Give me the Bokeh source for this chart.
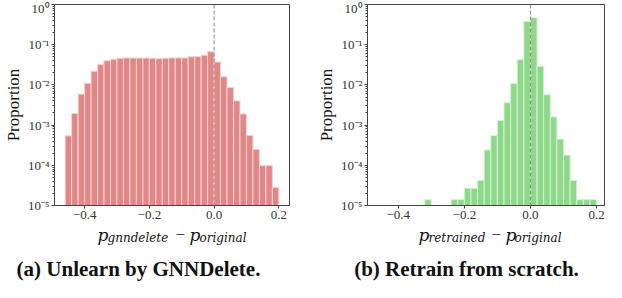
import math
from bokeh.plotting import figure
from bokeh.models import (Range1d, FixedTicker, CustomJSTickFormatter, Span,
                          ColumnDataSource)
from bokeh.core.properties import value
from bokeh.layouts import row, column
from bokeh.embed import file_html
from bokeh.resources import INLINE

# ---------------- data ----------------
BIN_W = 0.02
left_bins = [-0.46, -0.44, -0.42, -0.40, -0.38, -0.36, -0.34, -0.32, -0.30, -0.28,
             -0.26, -0.24, -0.22, -0.20, -0.18, -0.16, -0.14, -0.12, -0.10, -0.08,
             -0.06, -0.04, -0.02, 0.00, 0.02, 0.04, 0.06, 0.08, 0.10, 0.12,
             0.14, 0.16, 0.18]
left_vals = [5.4e-4, 1.95e-3, 5.9e-3, 1.1e-2, 2.2e-2, 3.2e-2, 4.0e-2, 4.35e-2, 4.6e-2, 4.7e-2,
             4.65e-2, 4.65e-2, 4.65e-2, 4.6e-2, 4.5e-2, 4.6e-2, 4.7e-2, 4.7e-2, 4.7e-2, 5.0e-2,
             5.05e-2, 5.5e-2, 6.7e-2, 3.7e-2, 1.6e-2, 8.6e-3, 4.0e-3, 1.9e-3, 5.5e-4, 2.5e-4,
             9.8e-5, 9.8e-5, 2.8e-5]

right_bins = [-0.32, -0.24, -0.22, -0.20, -0.18, -0.16, -0.14, -0.12, -0.10, -0.08,
              -0.06, -0.04, -0.02, 0.00, 0.02, 0.04, 0.06, 0.08, 0.10, 0.12,
              0.14, 0.16, 0.18]
right_vals = [1.4e-5, 1.4e-5, 1.4e-5, 2.7e-5, 2.7e-5, 4.2e-5, 2.4e-4, 5.5e-4, 1.3e-3, 3.6e-3,
              1.07e-2, 4.2e-2, 0.38, 0.47, 2.9e-2, 5.7e-3, 1.6e-3, 4.5e-4, 1.8e-4, 4.2e-5,
              1.4e-5, 1.4e-5, 1.4e-5]

x_ticks = [-0.4, -0.2, 0.0, 0.2]
y_ticks = [1e-5, 1e-4, 1e-3, 1e-2, 1e-1, 1e0]
y_minor = [k * 10.0 ** e for e in range(-5, 0) for k in range(2, 10)]

captions = ["(a) Unlearn by GNNDelete.", "(b) Retrain from scratch."]
subs = ["gnndelete", "retrained"]
y_label = "Proportion"

TICK_FONT = "Liberation Serif"
MATH_FONT = "DejaVu Serif"
INK = "#111111"

yfmt = CustomJSTickFormatter(code="""
const e = Math.round(Math.log10(tick));
const sup = {"-": "\u207b", "0": "\u2070", "1": "\u00b9", "2": "\u00b2", "3": "\u00b3",
             "4": "\u2074", "5": "\u2075", "6": "\u2076", "7": "\u2077", "8": "\u2078", "9": "\u2079"};
return "10" + String(e).split("").map(c => sup[c]).join("");
""")
xfmt = CustomJSTickFormatter(code="""
const v = Math.abs(tick) < 1e-9 ? 0 : tick;
return (v < 0 ? "\u2212" : "") + Math.abs(v).toFixed(1);
""")

MAIN_H = 221
TEXT_H = 282 - MAIN_H
TOTAL_W = 606


def make_main(bins, vals, fill, edge, width, bl, br, xr):
    bt, bb = 4, 16
    p = figure(width=width, height=MAIN_H, output_backend="svg", toolbar_location=None,
               title=None,
               x_range=Range1d(*xr), y_range=Range1d(1e-5, 1.0), y_axis_type="log",
               min_border_left=bl, min_border_right=br, min_border_top=bt,
               min_border_bottom=bb)
    src = ColumnDataSource(dict(left=bins, right=[b + BIN_W for b in bins], top=vals,
                                bottom=[1e-5] * len(vals)))
    p.quad(left="left", right="right", top="top", bottom="bottom", source=src,
           fill_color=fill, line_color=edge, line_width=1)
    p.add_layout(Span(location=0.0, dimension="height", line_color="#8a8a8a",
                      line_dash="4 2", line_width=1))
    p.grid.visible = False
    p.outline_line_color = "#444444"
    p.outline_line_width = 1
    p.outline_line_alpha = 1
    for ax in (p.xaxis[0], p.yaxis[0]):
        ax.axis_line_color = "#444444"
        ax.major_tick_line_color = "#444444"
        ax.minor_tick_line_color = "#444444"
        ax.major_tick_out = 3
        ax.major_tick_in = 0
        ax.minor_tick_out = 2
        ax.minor_tick_in = 0
        ax.major_label_text_font = TICK_FONT
        ax.major_label_text_font_size = "13px"
        ax.major_label_text_color = "#333333"
    p.xaxis.ticker = FixedTicker(ticks=x_ticks, minor_ticks=[])
    p.xaxis.formatter = xfmt
    p.xaxis.major_label_standoff = 2
    p.yaxis.ticker = FixedTicker(ticks=y_ticks, minor_ticks=y_minor)
    p.yaxis.formatter = yfmt
    p.yaxis.major_label_standoff = 2
    p.yaxis.axis_label = y_label
    p.yaxis.axis_label_text_font = TICK_FONT
    p.yaxis.axis_label_text_font_size = "17px"
    p.yaxis.axis_label_text_font_style = "normal"
    p.yaxis.axis_label_text_color = INK
    p.yaxis.axis_label_standoff = 2
    return p


def add_math(t, sub, xs):
    t.text(x=[xs[0], xs[3]], y=[13, 13], text=["p", "p"], text_font=value(MATH_FONT),
           text_font_size="17px", text_font_style="italic", text_color=INK,
           text_baseline="alphabetic")
    t.text(x=[xs[1], xs[4]], y=[16, 16], text=[sub, "original"],
           text_font=value(MATH_FONT), text_font_size="12px", text_font_style="italic",
           text_color=INK, text_baseline="alphabetic")
    t.text(x=[xs[2]], y=[13], text=["\u2212"], text_font=value(TICK_FONT),
           text_font_size="17px", text_color=INK, text_baseline="alphabetic")


W1, W2 = 310, 296
BL1, BL2 = 48, 57
p1 = make_main(left_bins, left_vals, "#e08888", "#f6d2d2", W1, BL1, 21, (-0.493, 0.233))
p2 = make_main(right_bins, right_vals, "#8ed88a", "#d6f2d3", W2, BL2, 2, (-0.493, 0.224))

t = figure(width=TOTAL_W, height=TEXT_H, output_backend="svg", toolbar_location=None,
           title=None, x_range=Range1d(0, TOTAL_W), y_range=Range1d(TEXT_H, 0),
           x_axis_type=None, y_axis_type=None, min_border=0)
t.outline_line_color = None
t.grid.visible = False
add_math(t, subs[0], [97, 107, 175, 189, 199])
add_math(t, subs[1], [418, 428, 491, 505, 514])
t.text(x=[138, 466], y=[47, 47], text=captions, text_font=value(TICK_FONT),
       text_font_size="21px", text_font_style="bold", text_color=INK,
       text_align="center", text_baseline="alphabetic")

layout = column(row(p1, p2, spacing=0), t, spacing=0)
open("out.html", "w").write(file_html(layout, INLINE))
